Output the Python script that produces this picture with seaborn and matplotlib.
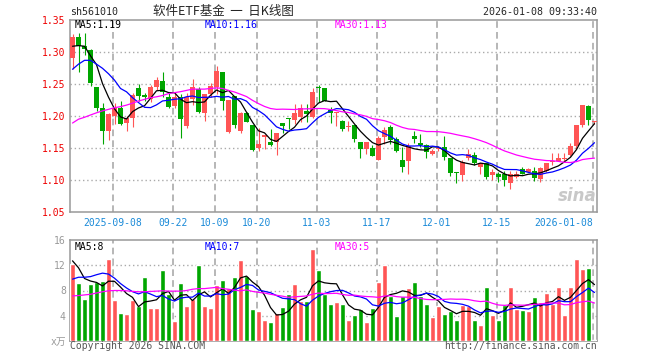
import numpy as np
import pandas as pd
import matplotlib
matplotlib.use("Agg")
import matplotlib.pyplot as plt
import seaborn as sns

# 日K数据，从图上读出（价格：元，成交量：万）
open_ = [1.291, 1.324, 1.309, 1.303, 1.246, 1.213, 1.176, 1.200, 1.212, 1.189,
         1.197, 1.244, 1.233, 1.226, 1.245, 1.254, 1.230, 1.215, 1.229, 1.185,
         1.227, 1.242, 1.204, 1.235, 1.246, 1.268, 1.175, 1.232, 1.177, 1.205,
         1.1854, 1.150, 1.167, 1.160, 1.160, 1.189, 1.1965, 1.194, 1.198, 1.208,
         1.198, 1.2445, 1.244, 1.209, 1.205, 1.192, 1.1825, 1.1854, 1.159, 1.148,
         1.150, 1.131, 1.167, 1.183, 1.1635, 1.131, 1.129, 1.168, 1.158, 1.154,
         1.1405, 1.148, 1.151, 1.135, 1.1115, 1.108, 1.135, 1.139, 1.120, 1.126,
         1.108, 1.110, 1.110, 1.096, 1.104, 1.1167, 1.113, 1.114, 1.101, 1.114,
         1.128, 1.129, 1.133, 1.1385, 1.153, 1.186, 1.2156, 1.1905]
high = [1.328, 1.329, 1.329, 1.304, 1.246, 1.221, 1.205, 1.221, 1.223, 1.200,
        1.236, 1.250, 1.236, 1.249, 1.261, 1.268, 1.237, 1.237, 1.235, 1.236,
        1.258, 1.245, 1.235, 1.251, 1.278, 1.268, 1.2245, 1.232, 1.207, 1.206,
        1.1854, 1.182, 1.171, 1.180, 1.174, 1.189, 1.1975, 1.219, 1.218, 1.219,
        1.244, 1.249, 1.244, 1.214, 1.2065, 1.193, 1.192, 1.1854, 1.159, 1.159,
        1.154, 1.168, 1.183, 1.186, 1.167, 1.152, 1.158, 1.177, 1.172, 1.156,
        1.148, 1.1515, 1.168, 1.135, 1.113, 1.132, 1.148, 1.143, 1.127, 1.127,
        1.117, 1.112, 1.114, 1.114, 1.114, 1.120, 1.119, 1.120, 1.120, 1.126,
        1.1427, 1.142, 1.1427, 1.158, 1.186, 1.217, 1.217, 1.192]
low = [1.273, 1.269, 1.295, 1.247, 1.208, 1.156, 1.162, 1.187, 1.186, 1.177,
       1.183, 1.224, 1.224, 1.222, 1.240, 1.229, 1.213, 1.213, 1.165, 1.182,
       1.217, 1.204, 1.192, 1.229, 1.234, 1.210, 1.174, 1.182, 1.174, 1.190,
       1.1454, 1.146, 1.149, 1.153, 1.139, 1.174, 1.180, 1.187, 1.191, 1.191,
       1.197, 1.222, 1.223, 1.189, 1.185, 1.176, 1.176, 1.159, 1.134, 1.140,
       1.137, 1.1305, 1.157, 1.156, 1.144, 1.113, 1.109, 1.158, 1.151, 1.135,
       1.139, 1.145, 1.131, 1.106, 1.095, 1.098, 1.132, 1.123, 1.109, 1.101,
       1.100, 1.097, 1.091, 1.0855, 1.103, 1.109, 1.113, 1.0984, 1.097, 1.113,
       1.124, 1.129, 1.129, 1.1375, 1.149, 1.183, 1.186, 1.188]
close = [1.324, 1.309, 1.304, 1.251, 1.213, 1.176, 1.203, 1.213, 1.188, 1.197,
         1.233, 1.232, 1.230, 1.246, 1.256, 1.237, 1.214, 1.229, 1.195, 1.229,
         1.245, 1.207, 1.234, 1.247, 1.270, 1.224, 1.2245, 1.186, 1.205, 1.190,
         1.1464, 1.157, 1.170, 1.154, 1.174, 1.185, 1.1955, 1.204, 1.213, 1.2026,
         1.238, 1.2435, 1.223, 1.205, 1.206, 1.179, 1.184, 1.1635, 1.148, 1.159,
         1.1375, 1.165, 1.178, 1.162, 1.145, 1.120, 1.153, 1.1635, 1.154, 1.143,
         1.146, 1.1505, 1.136, 1.1115, 1.111, 1.128, 1.141, 1.126, 1.126, 1.104,
         1.113, 1.105, 1.0995, 1.110, 1.110, 1.109, 1.1167, 1.1026, 1.118, 1.126,
         1.129, 1.135, 1.1345, 1.153, 1.186, 1.217, 1.193, 1.191]
volume = [12.26, 9.19, 6.6, 9.03, 9.3, 9.5, 12.96, 6.45, 4.5, 4.2,
          6.45, 5.6, 10.2, 5.2, 5.2, 11.3, 7.4, 3.2, 9.2, 5.6,
          6.6, 12.0, 5.5, 5.2, 8.9, 9.7, 8.4, 10.2, 12.8, 10.3,
          5.0, 4.8, 3.4, 3.0, 4.4, 5.4, 7.4, 9.0, 6.4, 6.4,
          14.5, 11.3, 7.5, 5.8, 6.2, 5.8, 3.3, 4.1, 5.0, 3.0,
          5.3, 9.3, 12.0, 7.2, 4.0, 7.2, 8.4, 9.3, 7.2, 5.9,
          3.8, 5.5, 4.2, 4.8, 3.3, 5.7, 5.5, 3.3, 2.6, 8.5,
          4.1, 3.4, 5.7, 8.5, 5.0, 4.9, 4.7, 7.0, 6.1, 7.6,
          5.9, 8.5, 4.1, 8.5, 13.0, 11.4, 11.6, 0.15]

# 窗口开头数据不够时的均线值（直接从图上读）
ma5_head = [1.309, 1.310, 1.309, 1.294]
ma10_head = [1.273, 1.281, 1.287, 1.287, 1.281, 1.2745, 1.266, 1.256, 1.243]
ma30_head = [1.189, 1.195, 1.198, 1.2016, 1.205, 1.208, 1.2104, 1.213, 1.2146, 1.217,
             1.220, 1.2234, 1.226, 1.2286, 1.230, 1.232, 1.235, 1.2365, 1.238, 1.240,
             1.242, 1.242, 1.242, 1.243, 1.244, 1.243, 1.240, 1.2375, 1.234]
vol_ma5_head = [12.7, 11.6, 9.9, 9.5]
vol_ma10_head = [9.8, 10.1, 10.1, 10.2, 10.5, 10.75, 10.6, 9.95, 9.1]
vol_ma30_head = [7.15, 7.2, 7.3, 7.4, 7.6, 7.8, 7.95, 8.0, 8.0, 7.95,
                 7.85, 7.8, 7.8, 7.85, 7.9, 7.95, 7.9, 7.9, 7.9, 8.0,
                 8.2, 8.3, 8.3, 8.4, 8.5, 8.3, 8.2, 8.05, 7.95]

tick_pos = [7, 17, 24, 31, 41, 51, 61, 71, 87]
tick_labels = ["2025-09-08", "09-22", "10-09", "10-20", "11-03",
               "11-17", "12-01", "12-15", "2026-01-08"]


def moving(values, n, head):
    s = pd.Series(values).rolling(n).mean().to_numpy()
    s[:n - 1] = head
    return s


RED = "#ff5555"
GREEN = "#00a600"
GRID = "#aaaaaa"
W, H = 660, 360

df = pd.DataFrame({"open": open_, "high": high, "low": low,
                   "close": close, "vol": volume})
df["idx"] = np.arange(len(df))
df["up"] = np.where(df["close"] >= df["open"], "up", "down")
colors = np.where(df["up"] == "up", RED, GREEN)

ma_p = {5: moving(close, 5, ma5_head), 10: moving(close, 10, ma10_head),
        30: moving(close, 30, ma30_head)}
ma_v = {5: moving(volume, 5, vol_ma5_head), 10: moving(volume, 10, vol_ma10_head),
        30: moving(volume, 30, vol_ma30_head)}
ma_colors = {5: "black", 10: "#0000ff", 30: "#ff00ff"}

sns.set_style("white")
plt.rcParams["font.family"] = ["DejaVu Sans Mono", "Noto Sans CJK SC"]
plt.rcParams["font.size"] = 7

fig = plt.figure(figsize=(W / 100, H / 100), dpi=100)


def axes_px(left, top, right, bottom):
    return fig.add_axes([left / W, 1 - bottom / H, (right - left) / W, (bottom - top) / H])


ax1 = axes_px(70, 20, 597, 212)
ax2 = axes_px(70, 240, 597, 341)

# K线
body_h = np.maximum((df["close"] - df["open"]).abs(), 0.0016)
body_b = np.minimum(df["open"], df["close"])
ax1.vlines(df["idx"], df["low"], df["high"], colors=colors, lw=0.8, zorder=3)
ax1.bar(df["idx"], body_h, bottom=body_b, width=0.8, color=colors, lw=0, zorder=3)
for n in (5, 10, 30):
    sns.lineplot(x=df["idx"], y=ma_p[n], color=ma_colors[n], lw=0.9, ax=ax1, zorder=4)

# 成交量
sns.barplot(data=df, x="idx", y="vol", hue="up", palette={"up": RED, "down": GREEN},
            dodge=False, width=0.8, saturation=1, errorbar=None, legend=False,
            ax=ax2, zorder=3)
for n in (5, 10, 30):
    sns.lineplot(x=df["idx"], y=ma_v[n], color=ma_colors[n], lw=0.9, ax=ax2, zorder=4)

for ax in (ax1, ax2):
    ax.set_xlim(-0.42, len(df) - 1 + 0.42)
    ax.set_xlabel("")
    ax.set_ylabel("")
    for sp in ax.spines.values():
        sp.set_color("#999999")
        sp.set_linewidth(1.1)
    for x in tick_pos:
        ax.axvline(x - 0.3, color=GRID, lw=1.2, ls=(0, (4, 2.5)), zorder=1)
    ax.tick_params(length=0)

ax1.set_ylim(1.05, 1.35)
yt = [1.05, 1.10, 1.15, 1.20, 1.25, 1.30, 1.35]
ax1.set_yticks(yt)
ax1.set_yticklabels([f"{v:.2f}" for v in yt], color="#ee0000")
for v in yt[1:-1]:
    ax1.axhline(v, color=GRID, lw=1.0, ls=(0, (1, 2)), zorder=1)
ax1.set_xticks([p - 0.3 for p in tick_pos])
ax1.set_xticklabels(tick_labels, color="#1a8ad8")
ax1.tick_params(axis="x", pad=4)
ax1.tick_params(axis="y", pad=3)
ax1.get_xticklabels()[-1].set_ha("right")

ax2.set_ylim(0, 16)
ax2.set_yticks([0, 4, 8, 12, 16])
ax2.set_yticklabels(["x万", "4", "8", "12", "16"], color="#999999")
ax2.tick_params(axis="y", pad=3)
ax2.set_xticks([])
for v in (4, 8, 12):
    ax2.axhline(v, color=GRID, lw=1.0, ls=(0, (1, 2)), zorder=1)


def ftext(x, y, s, **kw):
    fig.text(x / W, 1 - y / H, s, **kw)


ftext(70, 12, "sh561010", ha="left", va="center", fontsize=7.2)
ftext(223, 11.5, "软件ETF基金  一  日K线图", ha="center", va="center", fontsize=9,
      family=["Noto Sans CJK SC", "DejaVu Sans"])
ftext(597, 12, "2026-01-08 09:33:40", ha="right", va="center", fontsize=7.2)

ftext(75, 25.5, "MA5:1.19", color="black", va="center")
ftext(205, 25.5, "MA10:1.16", color="#0000ff", va="center")
ftext(335, 25.5, "MA30:1.13", color="#ff00ff", va="center")
ftext(75, 247, "MA5:8", color="black", va="center")
ftext(205, 247, "MA10:7", color="#0000ff", va="center")
ftext(335, 247, "MA30:5", color="#ff00ff", va="center")

ftext(70, 346, "Copyright 2026 SINA.COM", color="#555555", ha="left", va="center")
ftext(597, 346, "http://finance.sina.com.cn", color="#555555", ha="right", va="center")
ftext(597, 196, "sina", color="#c8c8c8", ha="right", va="center", fontsize=12,
      fontweight="bold", style="italic", family="DejaVu Sans")

fig.savefig("out.png", dpi=100)
